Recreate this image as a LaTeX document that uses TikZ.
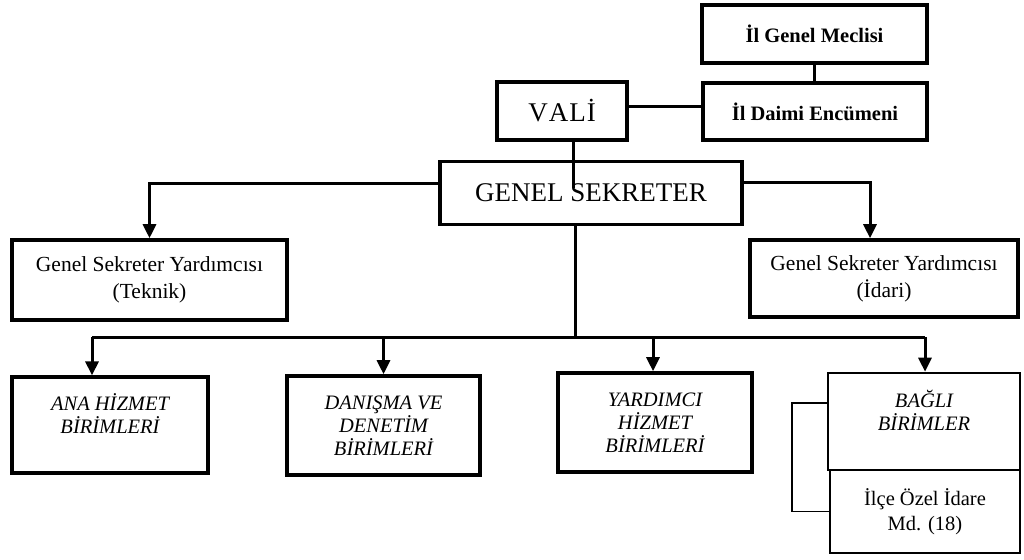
\documentclass[tikz,border=0pt]{standalone}
\usepackage{fontspec}
\setmainfont{Liberation Serif}
\usetikzlibrary{arrows.meta}
\begin{document}
\begin{tikzpicture}[x=1pt,y=-1pt,
  box/.style={draw, rectangle, line width=3.2pt, inner sep=0pt, align=center},
  conn/.style={line width=3pt},
  arr/.style={line width=3pt, -{Triangle[length=14pt,width=13pt]}},
  thinline/.style={line width=1.5pt},
  topfont/.style={font=\fontsize{20.5}{22}\selectfont\bfseries},
  bigfont/.style={font=\fontsize{27}{30}\selectfont},
  midfont/.style={font=\fontsize{21.5}{27}\selectfont},
  unitfont/.style={font=\fontsize{20.5}{23}\selectfont\itshape},
]
\useasboundingbox[fill=white] (0,0) rectangle (1024,559);

% top row
\node[box, topfont, minimum width=225pt, minimum height=58pt] (meclis) at (814.5,34) {İl Genel Meclisi};
\node[box, topfont, minimum width=224pt, minimum height=57pt] (encumen) at (815,111.5) {İl Daimi Encümeni};
\node[box, bigfont, line width=4.4pt, minimum width=130pt, minimum height=58pt] (vali) at (562,111) {V\kern1ptA\kern1ptL\kern1ptİ};

% genel sekreter
\node[box, bigfont, line width=3.6pt, minimum width=302pt, minimum height=63pt] (gs) at (591,193) {GENEL SEKRETER};

% deputies
\node[box, midfont, line width=3.6pt, minimum width=275pt, minimum height=80pt] (teknik) at (149.5,280) {Genel Sekreter Yardımcısı\\(Teknik)};
\node[box, midfont, line width=3.6pt, minimum width=268pt, minimum height=77pt] (idari) at (884,278.5) {Genel Sekreter Yardımcısı\\(İdari)};

% units
\node[box, unitfont, minimum width=196pt, minimum height=96pt] (ana) at (110,425) {ANA HİZMET\\BİRİMLERİ\\ };
\node[box, unitfont, line width=3.6pt, minimum width=193pt, minimum height=99pt] (danisma) at (383.5,425.5) {DANIŞMA VE\\DENETİM\\BİRİMLERİ};
\node[box, unitfont, line width=3.6pt, minimum width=194pt, minimum height=99pt] (yard) at (655,422.5) {YARDIMCI\\HİZMET\\BİRİMLERİ};
\node[box, unitfont, line width=2.6pt, minimum width=192pt, minimum height=97pt] (bagli) at (924,421.5) {BAĞLI\\BİRİMLER\\ };
\node[box, font=\fontsize{20.5}{25}\selectfont, line width=1.5pt, minimum width=190pt, minimum height=83pt] (ilce) at (925,511.5) {İlçe Özel İdare\\Md. (18)};

% helper coordinates
\coordinate (vend) at (573,188);
\coordinate (busL) at (92,337);
\coordinate (busR) at (925,337);
\coordinate (busT) at (575,337);
\coordinate (bx) at (792,403);

% connectors
\draw[conn] (meclis.south) -- (meclis.south |- encumen.north);
\draw[conn] ([yshift=4pt]vali.east) -- ([yshift=4pt]vali.east -| encumen.west);
\draw[conn] (vend |- vali.south) -- (vend);
\draw[arr] ([yshift=10pt]gs.west) -| (teknik.north);
\draw[arr] ([yshift=11pt]gs.east) -| ([xshift=-14pt]idari.north);
\draw[conn] (busT |- gs.south) -- (busT);
\draw[conn] (busL) -- (busR);
\draw[arr] (busL) -- (busL |- ana.north);
\draw[arr] (danisma.north |- busL) -- (danisma.north);
\draw[arr] ([xshift=-2pt]yard.north |- busL) -- ([xshift=-2pt]yard.north);
\draw[arr] (busR) -- (busR |- bagli.north);
\draw[thinline] (bx -| bagli.west) -- (bx) |- (ilce.west);
\end{tikzpicture}
\end{document}
